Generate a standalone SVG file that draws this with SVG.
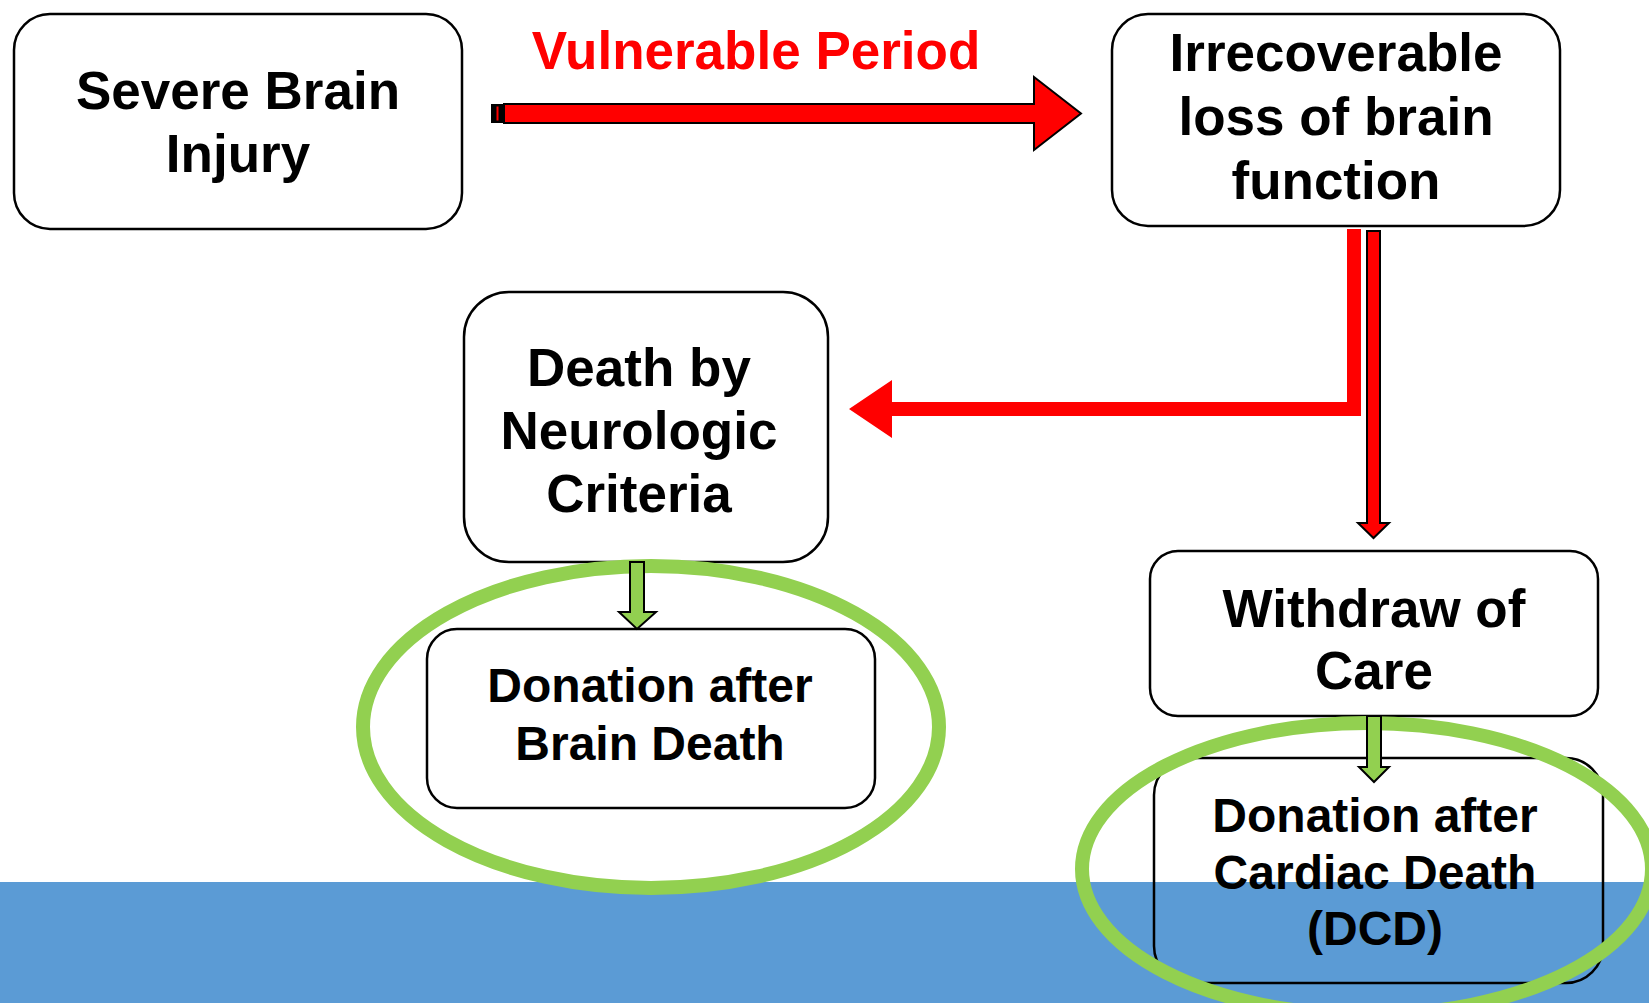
<svg xmlns="http://www.w3.org/2000/svg" width="1649" height="1003" viewBox="0 0 1649 1003">
<style>
.box{fill:#fff;stroke:#000;stroke-width:2.5}
.box-clear{fill:none;stroke:#000;stroke-width:2.5}
.t{font-family:"Liberation Sans",Arial,sans-serif;font-weight:bold;font-size:53px;fill:#000;text-anchor:middle}
.ts{font-size:48px}
.lbl{font-family:"Liberation Sans",Arial,sans-serif;font-weight:bold;font-size:53px;fill:#FF0000;text-anchor:middle}
.ring{fill:none;stroke:#92D050;stroke-width:14}
.red-out{fill:#FF0000;stroke:#000;stroke-width:2;stroke-linejoin:miter}
.red{fill:#FF0000;stroke:none}
.grn{fill:#92D050;stroke:#000;stroke-width:2;stroke-linejoin:miter}
</style>
<rect x="0" y="0" width="1649" height="1003" fill="#fff"/>
<rect id="band" x="0" y="882" width="1649" height="121" fill="#5B9BD5"/>

<g id="node-severe">
<rect class="box" x="14" y="14" width="448" height="215" rx="36"/>
<text class="t" x="238" y="109">Severe Brain</text>
<text class="t" x="238" y="172">Injury</text>
</g>

<g id="node-irrecoverable">
<rect class="box" x="1112" y="14" width="448" height="212" rx="36"/>
<text class="t" x="1336" y="71">Irrecoverable</text>
<text class="t" x="1336" y="135">loss of brain</text>
<text class="t" x="1336" y="199">function</text>
</g>

<g id="node-dnc">
<rect class="box" x="464" y="292" width="364" height="270" rx="45"/>
<text class="t" x="639" y="386">Death by</text>
<text class="t" x="639" y="449">Neurologic</text>
<text class="t" x="639" y="512">Criteria</text>
</g>

<g id="node-dbd">
<rect class="box" x="427" y="629" width="448" height="179" rx="30"/>
<text class="t ts" x="650" y="702">Donation after</text>
<text class="t ts" x="650" y="760">Brain Death</text>
</g>

<g id="node-withdraw">
<rect class="box" x="1150" y="551" width="448" height="165" rx="28"/>
<text class="t" x="1374" y="627">Withdraw of</text>
<text class="t" x="1374" y="689">Care</text>
</g>

<g id="node-dcd">
<rect class="box-clear" x="1154" y="758" width="449" height="225" rx="37"/>
<text class="t ts" x="1375" y="832">Donation after</text>
<text class="t ts" x="1375" y="889">Cardiac Death</text>
<text class="t ts" x="1375" y="945">(DCD)</text>
</g>

<g id="highlights">
<ellipse class="ring" cx="651" cy="727" rx="288" ry="161"/>
<ellipse class="ring" cx="1367" cy="869" rx="285" ry="146"/>
</g>

<g id="connectors">
<text class="lbl" x="756" y="69">Vulnerable Period</text>
<rect x="491" y="104" width="13" height="19" fill="#000"/>
<rect x="496.5" y="106.5" width="2" height="14" fill="#FF0000"/>
<polygon class="red-out" points="504,104 1034,104 1034,77 1081,113.5 1034,150 1034,123 504,123"/>
<polygon class="red" points="1361,229 1361,416 892,416 892,438 849,409 892,380 892,402 1347,402 1347,229"/>
<polygon class="red-out" points="1367,231 1380,231 1380,523 1389,523 1373.5,538 1358,523 1367,523"/>
<polygon class="grn" points="630,562 644,562 644,612 656,612 637,629 619,612 630,612"/>
<polygon class="grn" points="1367,716 1381,716 1381,767 1389,767 1374,782 1359,767 1367,767"/>
</g>
</svg>
